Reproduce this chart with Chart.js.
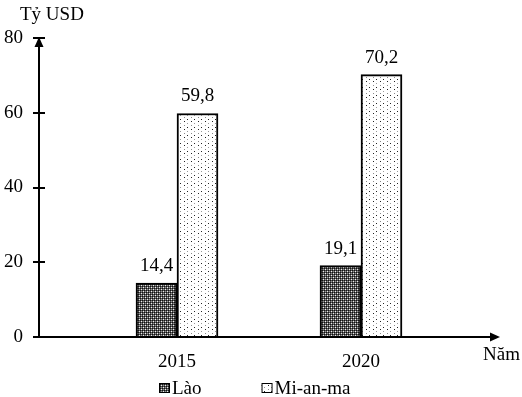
<!DOCTYPE html>
<html>
<head>
<meta charset="utf-8">
<script src="https://cdn.jsdelivr.net/npm/chart.js@4"></script>
<style>
  html, body { margin: 0; padding: 0; background: #fff; }
</style>
</head>
<body>
<canvas id="chart" width="522" height="397"></canvas>
<script>
const years = ["2015", "2020"];
const laoValues = [14.4, 19.1];
const myanmarValues = [59.8, 70.2];
const yTicks = [0, 20, 40, 60, 80];
const seriesNames = ["Lào", "Mi-an-ma"];
const yUnit = "Tỷ USD";
const xUnit = "Năm";

const FONT = "'Liberation Serif', 'Times New Roman', serif";
const FONT_SIZE = 19;

// spacer categories so the two year groups sit where they do in the picture
const labels = [""];
const laoData = [null];
const myanmarData = [null];
years.forEach((y, i) => {
  labels.push(y, "");
  laoData.push(laoValues[i], null);
  myanmarData.push(myanmarValues[i], null);
});

function makePattern(w, h, bg, dots) {
  const c = document.createElement("canvas");
  c.width = w;
  c.height = h;
  const g = c.getContext("2d");
  g.fillStyle = bg;
  g.fillRect(0, 0, w, h);
  dots.forEach(([x, y, col]) => {
    g.fillStyle = col;
    g.fillRect(x, y, 1, 1);
  });
  return document.createElement("canvas").getContext("2d").createPattern(c, "repeat");
}

// plaid-like dark fill for Lào
const laoPattern = makePattern(4, 4, "#555555", [
  [0, 0, "#111"], [2, 0, "#111"], [0, 2, "#111"], [2, 2, "#111"],
  [1, 1, "#eee"], [3, 3, "#eee"], [1, 3, "#999"], [3, 1, "#999"],
]);
// sparse dots on white for Mi-an-ma
const myanmarPattern = makePattern(7, 8, "#ffffff", [
  [2, 1, "#222"], [2, 5, "#888"], [5, 3, "#999"], [5, 7, "#222"],
]);

const fmt = (v) => String(v).replace(".", ",");

const decorations = {
  id: "decorations",
  afterDraw(chart) {
    const ctx = chart.ctx;
    const area = chart.chartArea;
    const yScale = chart.scales.y;
    ctx.save();
    ctx.strokeStyle = "#000";
    ctx.fillStyle = "#000";
    ctx.lineWidth = 2;

    // axes
    ctx.beginPath();
    ctx.moveTo(area.left, area.bottom);
    ctx.lineTo(area.right - 4, area.bottom);
    ctx.moveTo(area.left, area.bottom);
    ctx.lineTo(area.left, area.top + 6);
    ctx.stroke();

    // arrows
    ctx.beginPath();
    ctx.moveTo(area.right + 1, area.bottom);
    ctx.lineTo(area.right - 9, area.bottom - 4.5);
    ctx.lineTo(area.right - 9, area.bottom + 4.5);
    ctx.closePath();
    ctx.fill();
    ctx.beginPath();
    ctx.moveTo(area.left, area.top - 1);
    ctx.lineTo(area.left - 4.5, area.top + 9);
    ctx.lineTo(area.left + 4.5, area.top + 9);
    ctx.closePath();
    ctx.fill();

    // y tick marks crossing the axis
    ctx.beginPath();
    yTicks.forEach((v) => {
      const py = Math.round(yScale.getPixelForValue(v));
      ctx.moveTo(area.left - 6, py);
      ctx.lineTo(v === 0 ? area.left : area.left + 6, py);
    });
    ctx.stroke();

    // value labels
    ctx.font = FONT_SIZE + "px " + FONT;
    ctx.textAlign = "center";
    ctx.textBaseline = "alphabetic";
    chart.data.datasets.forEach((ds, di) => {
      chart.getDatasetMeta(di).data.forEach((el, i) => {
        const v = ds.data[i];
        if (v === null) return;
        ctx.fillText(fmt(v), el.x, el.y - 12);
      });
    });

    // axis units
    ctx.textAlign = "left";
    ctx.fillText(yUnit, area.left - 19, area.top - 18);
    ctx.textAlign = "right";
    ctx.fillText(xUnit, chart.width - 2, area.bottom + 23);

    // legend
    let x = 159;
    const y = chart.height - 14;
    ctx.textAlign = "left";
    ctx.lineWidth = 1;
    chart.data.datasets.forEach((ds) => {
      ctx.fillStyle = ds.backgroundColor;
      ctx.fillRect(x, y, 11, 10);
      ctx.strokeRect(x + 0.5, y + 0.5, 10, 9);
      ctx.fillStyle = "#000";
      ctx.fillText(ds.label, x + 13, y + 11);
      x += 13 + ctx.measureText(ds.label).width + 60;
    });
    ctx.restore();
  },
};

new Chart(document.getElementById("chart"), {
  type: "bar",
  data: {
    labels: labels,
    datasets: [
      {
        label: seriesNames[0],
        data: laoData,
        backgroundColor: laoPattern,
        borderColor: "#000",
        borderWidth: 2,
        barThickness: 41,
      },
      {
        label: seriesNames[1],
        data: myanmarData,
        backgroundColor: myanmarPattern,
        borderColor: "#000",
        borderWidth: 2,
        barThickness: 41,
      },
    ],
  },
  options: {
    responsive: false,
    animation: false,
    devicePixelRatio: 1,
    layout: { padding: { top: 38, right: 23, left: 0, bottom: 0 } },
    plugins: {
      legend: { display: false },
      tooltip: { enabled: false },
    },
    scales: {
      x: {
        grid: { display: false, drawTicks: false },
        border: { display: false },
        ticks: {
          color: "#000",
          font: { family: FONT, size: FONT_SIZE },
          padding: 14,
          autoSkip: false,
          maxRotation: 0,
        },
        afterFit(scale) {
          scale.height = 60;
        },
      },
      y: {
        min: yTicks[0],
        max: yTicks[yTicks.length - 1],
        grid: { display: false, drawTicks: false },
        border: { display: false },
        afterBuildTicks(scale) {
          scale.ticks = yTicks.map((v) => ({ value: v }));
        },
        ticks: {
          color: "#000",
          font: { family: FONT, size: FONT_SIZE },
          padding: 16,
        },
        afterFit(scale) {
          scale.width = 39;
        },
      },
    },
  },
  plugins: [decorations],
});
</script>
</body>
</html>
